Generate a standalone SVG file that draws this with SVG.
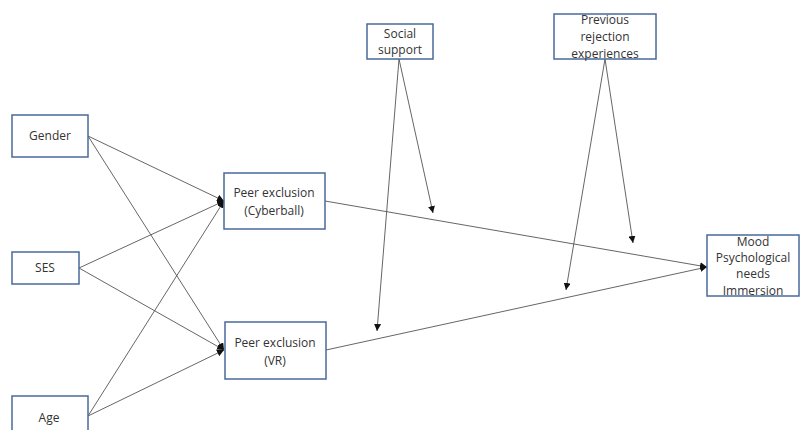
<svg xmlns="http://www.w3.org/2000/svg" width="800" height="430" viewBox="0 0 800 430">
<style>
.box{fill:#fff;stroke:#4a6a9a;stroke-width:1.5}
.t{font-family:"Open Sans","Liberation Sans",sans-serif;font-size:12px;fill:#333;text-anchor:middle}
.c{stroke:#555;stroke-width:0.9;fill:none;marker-end:url(#ah)}
</style>
<defs>
<marker id="ah" viewBox="0 0 10 10" refX="10" refY="5" markerWidth="7" markerHeight="7" markerUnits="userSpaceOnUse" orient="auto">
<path d="M0,0 L10,5 L0,10 z" fill="#111"/>
</marker>
</defs>
<rect width="800" height="430" fill="#fff"/>
<g id="connectors">
<line class="c" x1="88" y1="136" x2="224" y2="201"/>
<line class="c" x1="88" y1="136" x2="224" y2="350"/>
<line class="c" x1="79" y1="268" x2="224" y2="201"/>
<line class="c" x1="79" y1="268" x2="224" y2="350"/>
<line class="c" x1="88" y1="416" x2="224" y2="201"/>
<line class="c" x1="88" y1="416" x2="224" y2="350"/>
<line class="c" x1="325" y1="201" x2="707" y2="267"/>
<line class="c" x1="326" y1="350" x2="707" y2="267"/>
<line class="c" x1="399" y1="59" x2="433" y2="213"/>
<line class="c" x1="399" y1="59" x2="377" y2="331"/>
<line class="c" x1="605" y1="59" x2="633" y2="243"/>
<line class="c" x1="605" y1="59" x2="566" y2="290"/>
</g>
<g id="gender"><rect class="box" x="12" y="115" width="76" height="42"/><text class="t" x="50" y="140">Gender</text></g>
<g id="ses"><rect class="box" x="12" y="252" width="67" height="32"/><text class="t" x="45" y="272">SES</text></g>
<g id="age"><rect class="box" x="12" y="396" width="76" height="44"/><text class="t" x="49" y="422">Age</text></g>
<g id="cyberball"><rect class="box" x="224" y="173" width="101" height="56"/><text class="t" x="274" y="197">Peer exclusion</text><text class="t" x="274" y="215">(Cyberball)</text></g>
<g id="vr"><rect class="box" x="225" y="322" width="101" height="57"/><text class="t" x="275" y="347">Peer exclusion</text><text class="t" x="275" y="365">(VR)</text></g>
<g id="social"><rect class="box" x="367" y="24" width="66" height="35"/><text class="t" x="400" y="38">Social</text><text class="t" x="400" y="54">support</text></g>
<g id="previous"><rect class="box" x="554" y="14" width="102" height="45"/><text class="t" x="605" y="24">Previous</text><text class="t" x="605" y="41">rejection</text><text class="t" x="605" y="58">experiences</text></g>
<g id="outcome"><rect class="box" x="707" y="235" width="92" height="61"/><text class="t" x="753" y="246">Mood</text><text class="t" x="753" y="262">Psychological</text><text class="t" x="753" y="278">needs</text><text class="t" x="753" y="295">Immersion</text></g>
</svg>
